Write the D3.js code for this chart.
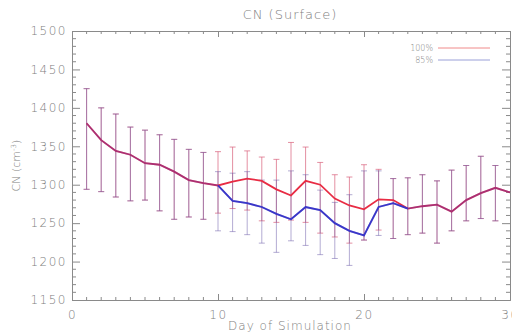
<!DOCTYPE html>
<html>
<head>
<meta charset="utf-8">
<script src="https://cdn.jsdelivr.net/npm/d3@7"></script>
<style>
  body { margin: 0; background: #fff; }
  svg { display: block; }
  text { font-family: "DejaVu Sans", sans-serif; font-weight: 200; fill: #808080; }
</style>
</head>
<body>
<svg id="chart"></svg>
<script>
// Day numbers
const days = d3.range(1, 31);

// Mean CN, 100% run (red) and 85% run (blue)
const cn100 = [1380, 1358, 1344, 1339, 1328, 1326, 1317, 1306, 1302, 1299,
               1304, 1308, 1305, 1294, 1286, 1305, 1300, 1282, 1273, 1268,
               1281, 1280, 1269, 1272, 1274, 1265, 1280, 1289, 1296, 1290];
const cn85  = [1380, 1358, 1344, 1339, 1328, 1326, 1317, 1306, 1302, 1299,
               1279, 1276, 1271, 1262, 1255, 1271, 1267, 1250, 1240, 1234,
               1271, 1276, 1269, 1272, 1274, 1265, 1280, 1289, 1296, 1290];

// Error bar ends (low / high)
const hi100 = [1425, 1400, 1392, 1375, 1371, 1365, 1359, 1346, 1342, 1343,
               1349, 1344, 1336, 1333, 1355, 1349, 1329, 1313, 1310, 1326,
               1320, 1308, 1309, 1313, 1305, 1319, 1325, 1337, 1325, null];
const lo100 = [1294, 1291, 1284, 1279, 1280, 1266, 1255, 1258, 1255, 1263,
               1269, 1267, 1253, 1251, 1254, 1251, 1237, 1232, 1224, 1228,
               1241, 1230, 1235, 1237, 1224, 1240, 1253, 1256, 1253, null];
const hi85  = [1425, 1400, 1392, 1375, 1371, 1365, 1359, 1346, 1342, 1317,
               1315, 1317, 1306, 1306, 1318, 1313, 1293, 1277, 1287, 1318,
               1318, 1308, 1309, 1313, 1305, 1319, 1325, 1337, 1325, null];
const lo85  = [1294, 1291, 1284, 1279, 1280, 1266, 1255, 1258, 1255, 1240,
               1239, 1235, 1224, 1212, 1227, 1221, 1209, 1204, 1195, 1228,
               1234, 1230, 1235, 1237, 1224, 1240, 1253, 1256, 1253, null];

const yTicks = [1150, 1200, 1250, 1300, 1350, 1400, 1450, 1500];
const xTicks = [0, 10, 20, 30];

const width = 512;
const height = 332;
const padding = { top: 31, right: 2, bottom: 32, left: 72 };

const svg = d3.select('#chart')
    .attr('width', width)
    .attr('height', height);

const x = d3.scaleLinear()
    .domain([0, 30])
    .range([padding.left, width - padding.right]);
const y = d3.scaleLinear()
    .domain([1150, 1500])
    .range([height - padding.bottom, padding.top]);

const axisColor = '#8a8a8a';

// minor ticks on all four sides (IDL-style box)
const xMinor = d3.range(0, 31, 1).filter(d => d % 10 !== 0);
const yMinor = d3.range(1150, 1501, 10).filter(d => d % 50 !== 0);

const bottomAxis = svg.append('g')
    .attr('transform', `translate(0, ${y(1150)})`)
    .call(d3.axisBottom(x).tickValues(xTicks).tickSize(-6).tickPadding(10).tickFormat(d3.format('d')));
const topAxis = svg.append('g')
    .attr('transform', `translate(0, ${y(1500)})`)
    .call(d3.axisTop(x).tickValues(xTicks).tickSize(-6).tickFormat(''));
const leftAxis = svg.append('g')
    .attr('transform', `translate(${x(0)}, 0)`)
    .call(d3.axisLeft(y).tickValues(yTicks).tickSize(-8).tickPadding(5).tickFormat(d3.format('d')));
const rightAxis = svg.append('g')
    .attr('transform', `translate(${x(30)}, 0)`)
    .call(d3.axisRight(y).tickValues(yTicks).tickSize(-8).tickFormat(''));

[bottomAxis, topAxis, leftAxis, rightAxis].forEach(g => {
    g.select('.domain').attr('stroke', axisColor);
    g.selectAll('.tick line').attr('stroke', axisColor);
    g.selectAll('.tick text')
        .attr('fill', '#808080')
        .style('font-size', '12px')
        .style('letter-spacing', '1.5px');
});

// minor ticks
svg.append('g').selectAll('line')
    .data(xMinor)
    .join('line')
    .attr('x1', d => x(d)).attr('x2', d => x(d))
    .attr('y1', y(1150)).attr('y2', y(1150) - 3)
    .attr('stroke', axisColor);
svg.append('g').selectAll('line')
    .data(xMinor)
    .join('line')
    .attr('x1', d => x(d)).attr('x2', d => x(d))
    .attr('y1', y(1500)).attr('y2', y(1500) + 3)
    .attr('stroke', axisColor);
svg.append('g').selectAll('line')
    .data(yMinor)
    .join('line')
    .attr('x1', x(0)).attr('x2', x(0) + 4)
    .attr('y1', d => y(d)).attr('y2', d => y(d))
    .attr('stroke', axisColor);
svg.append('g').selectAll('line')
    .data(yMinor)
    .join('line')
    .attr('x1', x(30)).attr('x2', x(30) - 4)
    .attr('y1', d => y(d)).attr('y2', d => y(d))
    .attr('stroke', axisColor);

// error bars
function drawErrors(lo, hi, color, opacity) {
    const rows = days.map((d, i) => ({ day: d, lo: lo[i], hi: hi[i] }))
        .filter(r => r.lo !== null);
    const g = svg.append('g')
        .attr('stroke', color)
        .attr('stroke-opacity', opacity)
        .attr('stroke-width', 1);
    g.selectAll('.bar')
        .data(rows)
        .join('line')
        .attr('x1', d => x(d.day)).attr('x2', d => x(d.day))
        .attr('y1', d => y(d.lo)).attr('y2', d => y(d.hi));
    g.selectAll('.capHi')
        .data(rows)
        .join('line')
        .attr('x1', d => x(d.day) - 3).attr('x2', d => x(d.day) + 3)
        .attr('y1', d => y(d.hi)).attr('y2', d => y(d.hi));
    g.selectAll('.capLo')
        .data(rows)
        .join('line')
        .attr('x1', d => x(d.day) - 3).attr('x2', d => x(d.day) + 3)
        .attr('y1', d => y(d.lo)).attr('y2', d => y(d.lo));
}
drawErrors(lo100, hi100, '#d8607a', 0.7);
drawErrors(lo85, hi85, '#6a5aa8', 0.5);

// lines
const line = d3.line()
    .x((d, i) => x(days[i]))
    .y(d => y(d));

svg.append('path')
    .datum(cn100)
    .attr('d', line)
    .attr('fill', 'none')
    .attr('stroke', '#e82c44')
    .attr('stroke-width', 1.8);
svg.append('path')
    .datum(cn85)
    .attr('d', line)
    .attr('fill', 'none')
    .attr('stroke', '#3a36c8')
    .attr('stroke-opacity', 0.35)
    .attr('stroke-width', 1.8);
// blue part where it differs from red
svg.append('path')
    .datum(cn85.map((v, i) => (i >= 9 && i <= 22) ? v : null))
    .attr('d', line.defined(d => d !== null))
    .attr('fill', 'none')
    .attr('stroke', '#3a36c8')
    .attr('stroke-width', 1.8);

// legend
const legend = [
    { name: '100%', color: '#f08a8a', yy: 48 },
    { name: '85%', color: '#9aa0d8', yy: 60 }
];
legend.forEach(l => {
    svg.append('text')
        .text(l.name)
        .attr('x', 433)
        .attr('y', l.yy + 3)
        .style('text-anchor', 'end')
        .style('font-size', '8px');
    svg.append('line')
        .attr('x1', 438).attr('x2', 490)
        .attr('y1', l.yy).attr('y2', l.yy)
        .attr('stroke', l.color)
        .attr('stroke-width', 1);
});

// title and labels
svg.append('text')
    .text('CN (Surface)')
    .attr('x', 290)
    .attr('y', 19)
    .style('text-anchor', 'middle')
    .style('font-size', '13px')
    .style('letter-spacing', '1px');

svg.append('text')
    .text('Day of Simulation')
    .attr('x', 290)
    .attr('y', 330)
    .style('text-anchor', 'middle')
    .style('font-size', '12px')
    .style('letter-spacing', '1px');

const ylab = svg.append('text')
    .attr('transform', `translate(20, ${y(1325)}) rotate(-90)`)
    .style('text-anchor', 'middle')
    .style('font-size', '11px');
ylab.append('tspan').text('CN (cm');
ylab.append('tspan').text('-3').attr('dy', -4).style('font-size', '7px');
ylab.append('tspan').text(')').attr('dy', 4);
</script>
</body>
</html>
